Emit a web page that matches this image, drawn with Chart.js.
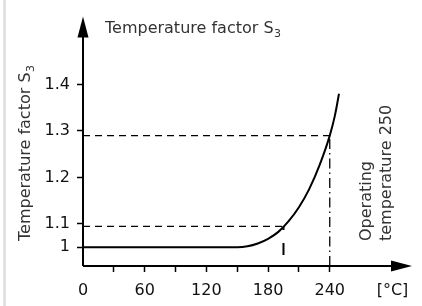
<!DOCTYPE html>
<html>
<head>
<meta charset="utf-8">
<script src="https://cdn.jsdelivr.net/npm/chart.js"></script>
<style>
  body { margin: 0; background: #fff; }
  #wrap { width: 422px; height: 306px; position: relative; }
  #bar { position: absolute; left: 3px; top: 0; width: 3px; height: 306px; background: #e2e2e2; }
</style>
</head>
<body>
<div id="wrap"><div id="bar"></div><canvas id="myChart"></canvas></div>
<script>
// curve: temperature [°C] vs factor (display values, flat part shown as "1")
const temps = [0, 150, 160, 170, 180, 190, 200, 210, 220, 230, 240, 245, 249]
const factors = [1.05, 1.05, 1.052, 1.058, 1.068, 1.083, 1.106, 1.136, 1.175, 1.226, 1.29, 1.333, 1.38]

const xTicks = [0, 30, 60, 90, 120, 150, 180, 210, 240, 301]
const xTickLabels = ['0', '', '60', '', '120', '', '180', '', '240', '[°C]']
const yTicks = [1.05, 1.1, 1.2, 1.3, 1.4]
const yTickLabels = ['1', '1.1', '1.2', '1.3', '1.4']

// reference (dashed) lines
const markTemps = [195, 240]
const markFactors = [1.095, 1.29]

const yMin = 1.0096
const yMax = 1.546
const fontFam = '"DejaVu Sans", sans-serif'

const ctx = document.getElementById('myChart')

const guideSets = []
markTemps.forEach((t, i) => {
  guideSets.push({
    data: [{x: 0, y: markFactors[i]}, {x: t, y: markFactors[i]}],
    borderColor: '#000', borderWidth: 1.3, borderDash: [7, 5], pointRadius: 0, fill: false
  })
  guideSets.push({
    data: [{x: t, y: yMin}, {x: t, y: markFactors[i]}],
    borderColor: '#000', borderWidth: i == 0 ? 2 : 1.3,
    borderDash: i == 0 ? [12, 13] : [10, 4, 1.5, 4],
    borderDashOffset: i == 0 ? 14 : 0,
    pointRadius: 0, fill: false
  })
})

const axesPlugin = {
  id: 'axes',
  afterDatasetsDraw(chart) {
    const c = chart.ctx
    const xs = chart.scales.x, ys = chart.scales.y
    const x0 = xs.getPixelForValue(0)
    const y0 = ys.getPixelForValue(yMin)
    const top = chart.chartArea.top
    const right = chart.chartArea.right
    c.save()
    c.strokeStyle = '#000'
    c.fillStyle = '#000'
    c.lineWidth = 2
    c.beginPath()
    c.moveTo(x0, y0)
    c.lineTo(x0, top + 18)
    c.moveTo(x0, y0)
    c.lineTo(right - 18, y0)
    c.stroke()
    c.beginPath()
    c.moveTo(x0, top)
    c.lineTo(x0 - 5.5, top + 21)
    c.lineTo(x0 + 5.5, top + 21)
    c.closePath()
    c.fill()
    c.beginPath()
    c.moveTo(right, y0)
    c.lineTo(right - 21, y0 - 5.5)
    c.lineTo(right - 21, y0 + 5.5)
    c.closePath()
    c.fill()

    // texts
    c.fillStyle = '#333'
    const drawS3 = (label, x, y) => {
      c.font = '16px ' + fontFam
      c.textAlign = 'left'
      c.textBaseline = 'alphabetic'
      c.fillText(label, x, y)
      const w = c.measureText(label).width
      c.font = '11px ' + fontFam
      c.fillText('3', x + w + 0.5, y + 4)
    }
    drawS3('Temperature factor S', 105, 33)

    c.save()
    c.translate(30, 241)
    c.rotate(-Math.PI / 2)
    drawS3('Temperature factor S', 0, 0)
    c.restore()

    c.save()
    c.translate(371, 241)
    c.rotate(-Math.PI / 2)
    c.font = '16px ' + fontFam
    c.textAlign = 'left'
    c.fillText('Operating', 0, 0)
    c.fillText('temperature 250', 0, 20)
    c.restore()
    c.restore()
  }
}

new Chart(ctx, {
  type: 'line',
  data: {
    datasets: [{
      data: temps.map((t, i) => ({x: t, y: factors[i]})),
      borderColor: '#000',
      borderWidth: 2,
      pointRadius: 0,
      cubicInterpolationMode: 'monotone',
      fill: false
    }].concat(guideSets)
  },
  options: {
    responsive: true,
    maintainAspectRatio: false,
    animation: false,
    events: [],
    layout: { padding: { left: 0, right: 10, top: 5, bottom: 0 } },
    plugins: { legend: { display: false }, tooltip: { enabled: false } },
    scales: {
      x: {
        type: 'linear',
        min: 0,
        max: 320,
        afterFit: s => { s.height = 40 },
        afterBuildTicks: s => { s.ticks = xTicks.map(v => ({value: v})) },
        border: { display: false },
        grid: {
          drawOnChartArea: false,
          tickLength: 6,
          tickWidth: 1.5,
          tickColor: c => (c.tick && (c.tick.value === 0 || c.tick.value === 301)) ? 'rgba(0,0,0,0)' : '#000'
        },
        ticks: {
          autoSkip: false,
          maxRotation: 0,
          padding: 9,
          color: '#111',
          font: { family: fontFam, size: 16 },
          callback: (v, i) => xTickLabels[i]
        }
      },
      y: {
        type: 'linear',
        min: yMin,
        max: yMax,
        afterFit: s => { s.width = 83 },
        afterBuildTicks: s => { s.ticks = yTicks.map(v => ({value: v})) },
        border: { display: false },
        grid: {
          drawOnChartArea: false,
          tickLength: 6,
          tickWidth: 1.5,
          tickColor: '#000'
        },
        ticks: {
          autoSkip: false,
          padding: 7,
          color: '#111',
          font: { family: fontFam, size: 16 },
          callback: (v, i) => yTickLabels[i]
        }
      }
    }
  },
  plugins: [axesPlugin]
})
</script>
</body>
</html>
